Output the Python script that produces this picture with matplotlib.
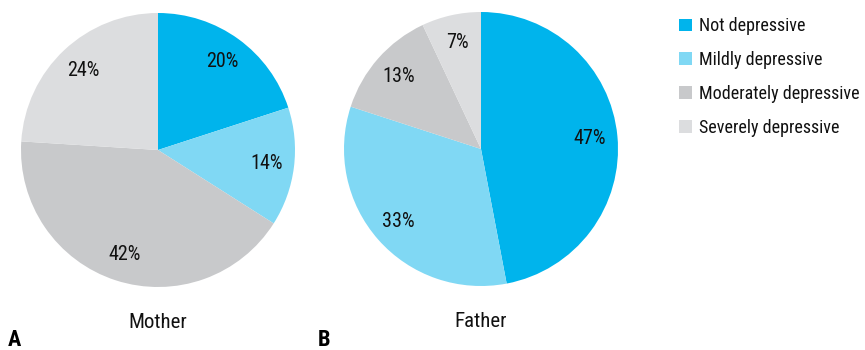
import matplotlib.pyplot as plt

plt.rcParams['font.family'] = ['Roboto Condensed', 'DejaVu Sans Condensed', 'Liberation Sans Narrow', 'Roboto']
plt.rcParams['font.stretch'] = 'condensed'

categories = ['Not depressive', 'Mildly depressive', 'Moderately depressive', 'Severely depressive']
mother = [20, 14, 42, 24]
father = [47, 33, 13, 7]
colors = ['#00B4EC', '#80D8F4', '#C8C9CB', '#DCDDDF']

W, H = 865, 350
fig = plt.figure(figsize=(W / 100, H / 100), dpi=100)

def pie_axes(cx, cy, r):
    # axes box in pixels, pie fills radius r
    ax = fig.add_axes([(cx - r) / W, (H - cy - r) / H, 2 * r / W, 2 * r / H])
    ax.set_xlim(-1, 1)
    ax.set_ylim(-1, 1)
    ax.set_aspect('equal')
    ax.axis('off')
    return ax

ax1 = pie_axes(158, 150, 137)
ax2 = pie_axes(481, 149, 137)

wedges = None
for ax, vals, name in [(ax1, mother, 'Mother'), (ax2, father, 'Father')]:
    w, _, _ = ax.pie(vals, colors=colors, startangle=90, counterclock=False,
                     radius=1, autopct='%d%%', pctdistance=0.8,
                     textprops={'fontsize': 14.5, 'color': '#111111'},
                     wedgeprops={'linewidth': 0})
    ax.set_xlim(-1, 1)
    ax.set_ylim(-1, 1)
    if wedges is None:
        wedges = w
    ax.text(0, -1.26, name, ha='center', va='center', fontsize=15, color='#111111')

fig.text(8 / W, 1 - 340 / H, 'A', fontsize=16, fontweight='bold', ha='left', va='center')
fig.text(318 / W, 1 - 340 / H, 'B', fontsize=16, fontweight='bold', ha='left', va='center')

fig.legend(wedges, categories, loc='upper left', bbox_to_anchor=(672 / W, 1 - 10 / H),
           frameon=False, fontsize=13, handlelength=0.7, handleheight=0.7,
           handletextpad=0.4, labelspacing=0.88, borderaxespad=0,
           labelcolor='#111111')

fig.savefig('out.png', dpi=100)
